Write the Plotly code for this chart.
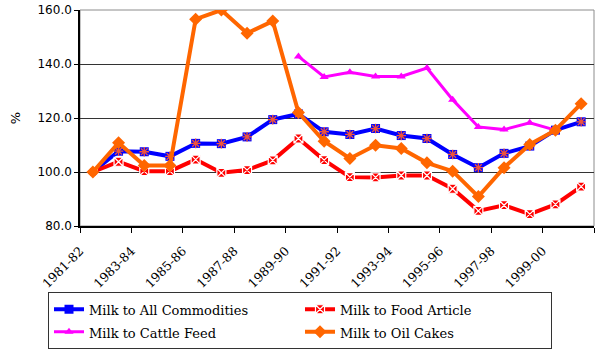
import plotly.graph_objects as go

years = ["1981-82", "1982-83", "1983-84", "1984-85", "1985-86", "1986-87", "1987-88",
         "1988-89", "1989-90", "1990-91", "1991-92", "1992-93", "1993-94", "1994-95",
         "1995-96", "1996-97", "1997-98", "1998-99", "1999-00", "2000-01"]

all_commodities = [100.0, 107.7, 107.5, 105.8, 110.6, 110.5, 113.0, 119.4, 121.5, 114.9,
                   113.9, 116.1, 113.5, 112.4, 106.5, 101.6, 106.9, 109.6, 115.5, 118.6]
food_article = [100.0, 103.8, 100.3, 100.3, 104.6, 99.7, 100.7, 104.3, 112.4, 104.4,
                98.1, 98.0, 98.7, 98.7, 93.8, 85.6, 87.7, 84.4, 88.0, 94.6]
cattle_feed = [None, None, None, None, None, None, None, None, 142.8, 135.2,
               136.9, 135.4, 135.4, 138.5, 126.8, 116.7, 115.7, 118.2, 115.5, None]
oil_cakes = [100.0, 110.8, 102.4, 102.4, 156.6, 160.0, 151.4, 155.9, 122.0, 111.4,
             105.0, 109.9, 108.7, 103.4, 100.3, 90.9, 101.6, 110.2, 115.5, 125.3]

y_ticks = [80, 100, 120, 140, 160]

xs = list(range(len(years)))
label_pos = [i - 0.5 for i in xs[::2]] + [len(years) - 0.5]
label_txt = years[::2] + [""]

SERIF = "DejaVu Serif"


def lg(name):
    return f"<span style='font-size:13px'>{name}</span>"


fig = go.Figure()
fig.add_trace(go.Scatter(x=xs, y=all_commodities, name=lg("Milk to All Commodities"),
                         mode="lines+markers",
                         line=dict(color="#0000FF", width=4),
                         marker=dict(symbol="square", size=9, color="#0000FF",
                                     line=dict(color="#0000FF", width=0))))
fig.add_trace(go.Scatter(x=xs, y=all_commodities, mode="markers", showlegend=False,
                         hoverinfo="skip",
                         marker=dict(symbol="asterisk-open", size=8,
                                     line=dict(color="white", width=1.3))))
fig.add_trace(go.Scatter(x=xs, y=food_article, name=lg("Milk to Food Article"),
                         mode="lines+markers",
                         line=dict(color="#FF0000", width=4),
                         marker=dict(symbol="square-x", size=9, color="#FF0000",
                                     line=dict(color="white", width=1.2))))
fig.add_trace(go.Scatter(x=xs, y=cattle_feed, name=lg("Milk to Cattle Feed"),
                         mode="lines+markers",
                         line=dict(color="#FF00FF", width=3),
                         marker=dict(symbol="triangle-up", size=8, color="#FF00FF")))
fig.add_trace(go.Scatter(x=xs, y=oil_cakes, name=lg("Milk to Oil Cakes"),
                         mode="lines+markers",
                         line=dict(color="#FF6600", width=4),
                         marker=dict(symbol="diamond", size=10, color="#FF6600")))

fig.add_shape(type="rect", xref="paper", yref="paper", x0=0, x1=1, y0=0, y1=1,
              line=dict(color="#8c8c8c", width=1), layer="below")

fig.update_layout(
    width=599, height=349,
    margin=dict(l=80, r=5, t=10, b=123),
    paper_bgcolor="white", plot_bgcolor="white",
    showlegend=True,
    legend=dict(orientation="h", xref="container", yref="container",
                x=48 / 599, xanchor="left", y=1 - 292 / 349, yanchor="top",
                bordercolor="#333333", borderwidth=1, bgcolor="white",
                entrywidth=206, entrywidthmode="pixels",
                font=dict(family=SERIF, size=15, color="black"),
                itemwidth=30, tracegroupgap=0),
    xaxis=dict(range=[-0.5, len(years) - 0.5], tickmode="array",
               tickvals=label_pos, ticktext=label_txt, tickangle=-45,
               ticks="outside", ticklen=5, tickcolor="black",
               showline=True, linecolor="black", linewidth=1.5,
               showgrid=False, zeroline=False, automargin=False,
               ticklabelstandoff=6,
               tickfont=dict(family=SERIF, size=12.5, color="black")),
    yaxis=dict(range=[80, 160], tickmode="array", tickvals=y_ticks,
               ticktext=[f"{v:.1f}" for v in y_ticks],
               ticks="outside", ticklen=4, tickcolor="black",
               showline=True, linecolor="black", linewidth=1.5,
               showgrid=True, gridcolor="#333333", gridwidth=1, zeroline=False,
               automargin=False,
               tickfont=dict(family="DejaVu Sans", size=12, color="black"),
               title=dict(text="%", font=dict(family="DejaVu Sans", size=13, color="black"),
                          standoff=14)),
)

fig.write_html("out.html")
